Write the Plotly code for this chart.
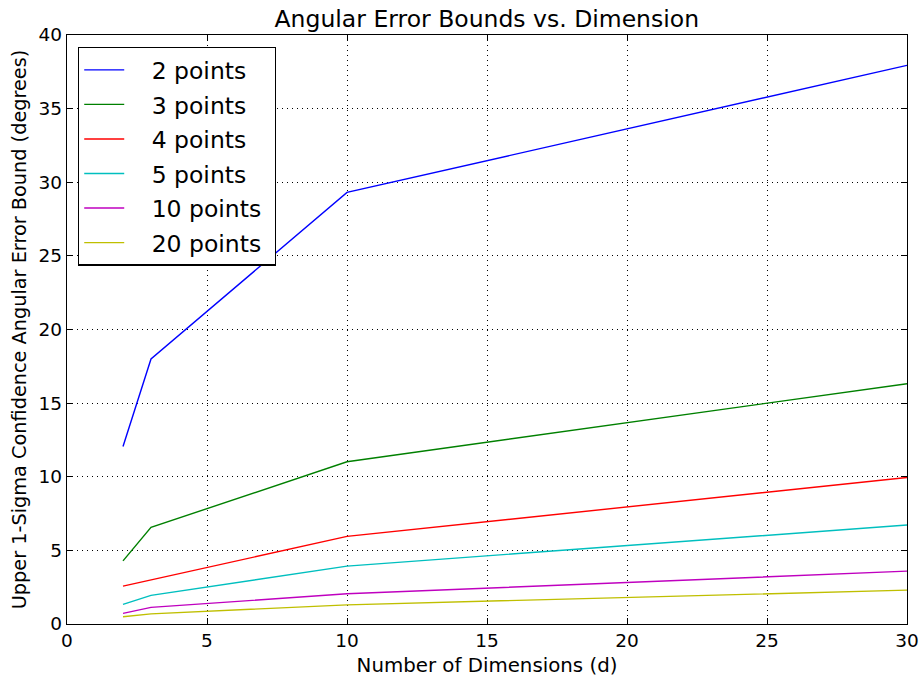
import plotly.graph_objects as go

dims = [2, 3, 10, 30]
series_names = ["2 points", "3 points", "4 points", "5 points", "10 points", "20 points"]
pts2 = [12.06, 18.0, 29.31, 37.94]
pts3 = [4.29, 6.56, 11.02, 16.32]
pts4 = [2.57, 2.99, 5.95, 9.95]
pts5 = [1.33, 1.94, 3.93, 6.72]
pts10 = [0.72, 1.13, 2.05, 3.59]
pts20 = [0.49, 0.69, 1.30, 2.30]
colors = ["#0000ff", "#008000", "#ff0000", "#00bfbf", "#bf00bf", "#bfbf00"]
x_ticks = [0, 5, 10, 15, 20, 25, 30]
y_ticks = [0, 5, 10, 15, 20, 25, 30, 35, 40]

fig = go.Figure()
for i, (name, vals) in enumerate(zip(series_names, [pts2, pts3, pts4, pts5, pts10, pts20])):
    fig.add_trace(go.Scatter(x=dims, y=vals, mode="lines", name="\u00a0\u00a0\u00a0" + name + "\u00a0",
                             legendgroup=f"g{i}",
                             line=dict(color=colors[i], width=1.4)))

font = "DejaVu Sans, sans-serif"
axis_common = dict(showline=True, linecolor="black", linewidth=1.3, mirror="ticks",
                   ticks="inside", ticklen=6, tickcolor="black", tickwidth=1,
                   showgrid=True, gridcolor="black", griddash="1px,4px", gridwidth=1,
                   zeroline=False, automargin=False,
                   tickfont=dict(family=font, size=18.5, color="black"))

fig.update_layout(
    width=922, height=677,
    margin=dict(l=67, r=15, t=35, b=53),
    paper_bgcolor="white", plot_bgcolor="white",
    font=dict(family=font, color="black"),
    title=dict(text="Angular Error Bounds vs. Dimension", x=0.528, xanchor="center",
               y=0.972, yanchor="middle", font=dict(family=font, size=23.5, color="black")),
    xaxis=dict(range=[0, 30], tickvals=x_ticks,
               title=dict(text="Number of Dimensions (d)", font=dict(family=font, size=19.8), standoff=9),
               **axis_common),
    yaxis=dict(range=[0, 40], tickvals=y_ticks,
               title=dict(text="Upper 1-Sigma Confidence Angular Error Bound (degrees)",
                          font=dict(family=font, size=19.3), standoff=6),
               **axis_common),
    legend=dict(x=0.013, y=0.98, xanchor="left", yanchor="top",
                bordercolor="black", borderwidth=1.3, bgcolor="white",
                font=dict(family=font, size=23.5, color="black"),
                tracegroupgap=1, itemwidth=40),
    showlegend=True,
)

fig.write_html("out.html")
